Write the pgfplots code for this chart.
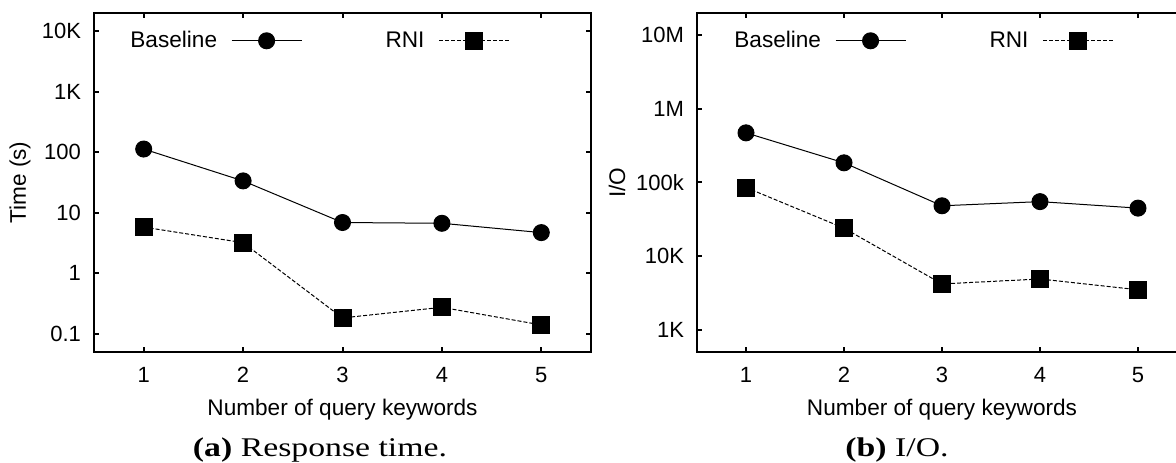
\documentclass[border=0pt]{standalone}
\usepackage{graphicx}
\usepackage{fontspec}
\setmainfont{Liberation Sans}
\newfontfamily\capfont{Liberation Serif}
\usepackage{pgfplots}
\pgfplotsset{compat=1.18}
\newcommand{\sfont}{\fontsize{11.3}{13.5}\selectfont}
\pgfplotsset{
  myaxis/.style={
    scale only axis,
    xmin=0.5, xmax=5.5,
    xtick={1,2,3,4,5},
    tick align=inside,
    major tick length=2.5pt,
    every minor tick/.append style={draw=none},
    minor tick length=0pt,
    axis line style={line width=1pt},
    every tick/.append style={line width=1pt, black},
    /pgf/number format/assume math mode=true,
    tick label style={font=\fontsize{11}{13}\selectfont},
    yticklabel style={xshift=-3pt},
    xticklabel style={yshift=-4pt},
    every axis x label/.style={at={(axis description cs:0.5,-0.186)}, anchor=base, font=\sfont},
    legend plot pos=right,
    legend columns=2,
    legend image code/.code={
      \path[draw=none, fill=none] (0pt,0pt) -- (70pt,0pt);
      \draw[mark repeat=2, mark phase=2, ##1] plot coordinates {(0pt,0pt)(17.5pt,0pt)(35pt,0pt)};
    },
    legend style={draw=none, fill=none, inner sep=0pt, column sep=5pt,
      anchor=west, font=\sfont,
      nodes={inner sep=2pt}},
  },
  baseS/.style={black, line width=0.5pt, mark=*, mark size=4pt, mark options={solid}},
  rniS/.style={black, line width=0.5pt, dash pattern=on 2pt off 1pt, mark=square*, mark size=4.25pt, mark options={solid}},
}
\begin{document}
\begin{tikzpicture}
\begin{semilogyaxis}[myaxis,
  at={(47pt,55pt)}, anchor=south west,
  width=248.5pt, height=169.5pt,
  ymin=0.05, ymax=20000,
  ytick={0.1,1,10,100,1000,10000},
  yticklabels={0.1,1,10,100,1K,10K},
  xlabel={Number of query keywords},
  ylabel={Time (s)},
  every axis y label/.style={at={(axis description cs:-0.149,0.5)}, rotate=90, anchor=center, font=\sfont},
  legend style={at={(axis description cs:0.0644,0.918)}},
]
\addplot[baseS] coordinates {(1,113) (2,33.6) (3,6.9) (4,6.7) (5,4.7)};
\addlegendentry{Baseline}
\addplot[rniS] coordinates {(1,5.8) (2,3.2) (3,0.183) (4,0.274) (5,0.14)};
\addlegendentry{RNI}
\end{semilogyaxis}
\begin{semilogyaxis}[myaxis,
  at={(348.5pt,55pt)}, anchor=south west,
  width=245pt, height=169.5pt,
  ymin=500, ymax=2e7,
  ytick={1000,10000,100000,1000000,10000000},
  yticklabels={1K,10K,100k,1M,10M},
  xlabel={Number of query keywords},
  ylabel={I/O},
  every axis y label/.style={at={(axis description cs:-0.163,0.5)}, rotate=90, anchor=center, font=\sfont},
  legend style={at={(axis description cs:0.0673,0.918)}},
]
\addplot[baseS] coordinates {(1,472000) (2,185000) (3,48300) (4,55000) (5,44900)};
\addlegendentry{Baseline}
\addplot[rniS] coordinates {(1,85500) (2,24000) (3,4200) (4,4900) (5,3500)};
\addlegendentry{RNI}
\end{semilogyaxis}
\node[anchor=base] at (160pt,2.65pt) {\capfont\fontsize{13.5}{15}\selectfont\scalebox{1.25}[1]{\textbf{(a)} Response time.}};
\node[anchor=base] at (448.5pt,2.65pt) {\capfont\fontsize{13.5}{15}\selectfont\scalebox{1.25}[1]{\textbf{(b)} I/O.}};
\pgfresetboundingbox
\useasboundingbox (0pt,0pt) rectangle (588pt,231pt);
\end{tikzpicture}
\end{document}
